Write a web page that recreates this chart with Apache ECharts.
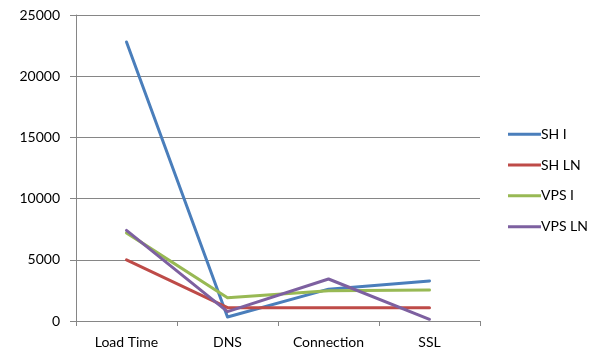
<!DOCTYPE html>
<html>
<head>
<meta charset="utf-8">
<script src="https://cdn.jsdelivr.net/npm/echarts@6/dist/echarts.min.js"></script>
<style>
  html, body { margin: 0; padding: 0; background: #fff; }
  #chart { width: 592px; height: 356px; }
</style>
</head>
<body>
<div id="chart"></div>
<script>
// Timing phases (ms) per hosting setup
var categories = ['Load Time', 'DNS', 'Connection', 'SSL'];
var shI   = [22800, 330, 2600, 3270];
var shLN  = [5000, 1090, 1090, 1090];
var vpsI  = [7200, 1900, 2480, 2530];
var vpsLN = [7400, 760, 3430, 140];
var yTicks = [0, 5000, 10000, 15000, 20000, 25000];

var font = 'Lato, "Open Sans", sans-serif';
var gridGray = '#868686';

function line(name, data, color) {
  return {
    name: name,
    type: 'line',
    data: data,
    symbol: 'none',
    lineStyle: { width: 3, color: color, cap: 'round', join: 'round' },
    itemStyle: { color: color }
  };
}

var chart = echarts.init(document.getElementById('chart'), null, { renderer: 'canvas' });
chart.setOption({
  animation: false,
  backgroundColor: '#fff',
  textStyle: { fontFamily: font },
  grid: { left: 76, right: 112, top: 15, bottom: 35, containLabel: false },
  legend: {
    orient: 'vertical',
    left: 503,
    top: 121,
    itemWidth: 33,
    itemHeight: 3,
    itemGap: 14.3,
    icon: 'rect',
    textStyle: {
      fontFamily: font, fontSize: 14, color: '#000',
      lineHeight: 16.5, padding: [0, 0, 0, -5]
    },
    data: ['SH I', 'SH LN', 'VPS I', 'VPS LN']
  },
  xAxis: {
    type: 'category',
    data: categories,
    boundaryGap: true,
    axisLine: { lineStyle: { color: gridGray, width: 1 } },
    axisTick: { show: true, length: 5, alignWithLabel: false, lineStyle: { color: gridGray } },
    axisLabel: { margin: 14, fontSize: 14, color: '#000', fontFamily: font }
  },
  yAxis: {
    type: 'value',
    min: yTicks[0],
    max: yTicks[yTicks.length - 1],
    interval: 5000,
    axisLine: { show: true, lineStyle: { color: gridGray, width: 1 } },
    axisTick: { show: true, length: 6, lineStyle: { color: gridGray } },
    splitLine: { show: true, lineStyle: { color: gridGray, width: 1 } },
    axisLabel: {
      margin: 16, fontSize: 14, color: '#000', fontFamily: font,
      formatter: function (v) { return String(v); }
    }
  },
  series: [
    line('SH I', shI, '#4A7EBB'),
    line('SH LN', shLN, '#BE4B48'),
    line('VPS I', vpsI, '#98B954'),
    line('VPS LN', vpsLN, '#7D60A0')
  ]
});
</script>
</body>
</html>
